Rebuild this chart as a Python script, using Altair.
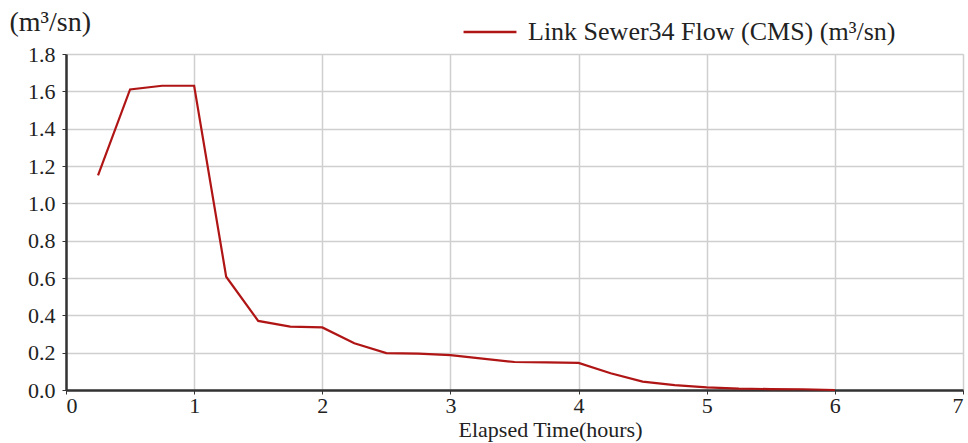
import altair as alt
import pandas as pd

hours = [0.25, 0.5, 0.75, 1.0, 1.25, 1.5, 1.75, 2.0, 2.25, 2.5, 2.75, 3.0,
         3.25, 3.5, 3.75, 4.0, 4.25, 4.5, 4.75, 5.0, 5.25, 5.5, 5.75, 6.0]
flow = [1.15, 1.61, 1.63, 1.63, 0.607, 0.37, 0.34, 0.335, 0.25, 0.198, 0.195, 0.187,
        0.168, 0.15, 0.148, 0.145, 0.09, 0.045, 0.026, 0.014, 0.007, 0.005, 0.004, 0.0]
x_ticks = [0, 1, 2, 3, 4, 5, 6, 7]
y_ticks = [0, 0.2, 0.4, 0.6, 0.8, 1.0, 1.2, 1.4, 1.6, 1.8]
series_name = "Link Sewer34 Flow (CMS) (m³/sn)"

df = pd.DataFrame({"t": hours, "q": flow, "s": [series_name] * len(hours)})

FONT = "Liberation Serif"
common = dict(labelFont=FONT, labelFontSize=22, labelColor="#222",
              labelFontWeight="normal",
              domainColor="#333", domainWidth=2.5,
              gridColor="#cfcfcf", gridWidth=1.5,
              tickColor="#333", tickSize=4,
              titleFont=FONT, titleFontWeight="normal", titleColor="#222")

chart = alt.Chart(df).mark_line(strokeWidth=2.2).encode(
    x=alt.X("t:Q", scale=alt.Scale(domain=[0, 7], nice=False),
            axis=alt.Axis(values=x_ticks, format="d",
                          title="Elapsed Time(hours)", titleFontSize=22,
                          titleAlign="center", titleBaseline="alphabetic",
                          titleX=484, titleY=46,
                          labelPadding=1, **common)),
    y=alt.Y("q:Q", scale=alt.Scale(domain=[0, 1.8], nice=False),
            axis=alt.Axis(values=y_ticks, format=".1f", title="(m³/sn)",
                          titleFontSize=28, titleAngle=0, titleAlign="left",
                          titleBaseline="alphabetic", titleX=-57, titleY=-24,
                          labelPadding=7, **common)),
    color=alt.Color("s:N", scale=alt.Scale(range=["#b01515"]),
                    legend=alt.Legend(title=None, orient="none", legendX=396,
                                      legendY=-50, symbolType="stroke",
                                      symbolSize=2800, symbolStrokeWidth=2.5,
                                      symbolStrokeColor="#9e6a6a",
                                      labelFont=FONT, labelFontSize=26,
                                      labelColor="#222", labelLimit=0,
                                      labelOffset=10)),
).properties(
    width=897, height=336,
    autosize=alt.AutoSizeParams(type="none"),
    padding={"left": 66, "top": 54, "right": 5, "bottom": 53},
).configure_axis(
    labelFont=FONT, titleFont=FONT
).configure_view(
    stroke="#333", strokeWidth=1.5
).configure(background="white", font=FONT)

chart.save("out.html", embed_options={"renderer": "svg", "actions": False})
